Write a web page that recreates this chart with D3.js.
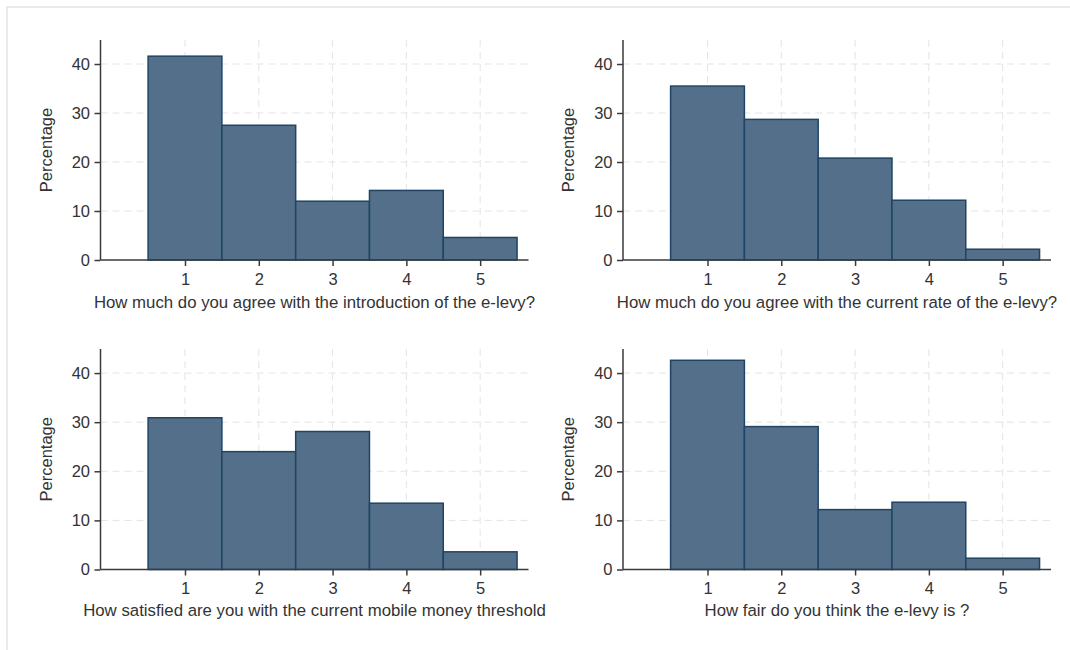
<!DOCTYPE html>
<html>
<head>
<meta charset="utf-8">
<script src="https://cdn.jsdelivr.net/npm/d3@7"></script>
<style>
  body { margin: 0; background: #fff; }
  svg { display: block; font-family: "Liberation Sans", Arial, sans-serif; }
  .grid line { stroke: #e4e4e4; stroke-width: 1; stroke-dasharray: 7,5; }
  .axis path, .axis line { stroke: #3a3a3a; stroke-width: 1.5; }
  .axis text { fill: #333; font-size: 16.5px; }
</style>
</head>
<body>
<div id="chart"></div>
<script>
// data
let categories = [1, 2, 3, 4, 5];
let yTicks = [0, 10, 20, 30, 40];
let yLabel = 'Percentage';

let introValues = [41.6, 27.5, 12.0, 14.2, 4.6];
let rateValues = [35.5, 28.7, 20.8, 12.2, 2.2];
let thresholdValues = [30.9, 24.0, 28.1, 13.5, 3.6];
let fairValues = [42.6, 29.1, 12.2, 13.7, 2.3];

let titles = [
  'How much do you agree with the introduction of the e-levy?',
  'How much do you agree with the current rate of the e-levy?',
  'How satisfied are you with the current mobile money threshold',
  'How fair do you think the e-levy is ?',
];

let barFill = '#546f89';
let barStroke = '#1f4566';

let width = 1070,
  height = 650;

// panel layout: left edge of plot, top and bottom (axis) of plot
let panels = [
  { values: introValues, title: titles[0], left: 100.5, top: 40, bottom: 260, titleDy: 48 },
  { values: rateValues, title: titles[1], left: 623, top: 40, bottom: 260, titleDy: 48 },
  { values: thresholdValues, title: titles[2], left: 100.5, top: 349, bottom: 569.5, titleDy: 46.5 },
  { values: fairValues, title: titles[3], left: 623, top: 349, bottom: 569.5, titleDy: 46.5 },
];
let plotWidth = 428;

const svg = d3
  .select('#chart')
  .append('svg')
  .attr('width', width)
  .attr('height', height);

// light frame on top and left edges
svg.append('path')
  .attr('d', `M7,${height} L7,7 L${width},7`)
  .attr('fill', 'none')
  .attr('stroke', '#e2e2e2')
  .attr('stroke-width', 1.5);

let drawPanel = (p) => {
  let x = d3
    .scaleLinear()
    .domain([-0.145, 5.655])
    .range([p.left, p.left + plotWidth]);

  let y = d3
    .scaleLinear()
    .domain([0, 44.9])
    .range([p.bottom, p.top]);

  let g = svg.append('g');

  // grid lines
  let grid = g.append('g').attr('class', 'grid');
  grid.selectAll('.hy')
    .data(yTicks.filter((d) => d > 0))
    .join('line')
    .attr('x1', x.range()[0])
    .attr('x2', x.range()[1])
    .attr('y1', (d) => y(d))
    .attr('y2', (d) => y(d));
  grid.selectAll('.vx')
    .data(categories)
    .join('line')
    .attr('x1', (d) => x(d))
    .attr('x2', (d) => x(d))
    .attr('y1', y.range()[1])
    .attr('y2', y.range()[0]);

  // bars
  g.append('g')
    .selectAll('rect')
    .data(p.values)
    .join('rect')
    .attr('x', (d, i) => x(categories[i] - 0.5))
    .attr('width', (d, i) => x(categories[i] + 0.5) - x(categories[i] - 0.5))
    .attr('y', (d) => y(d))
    .attr('height', (d) => y(0) - y(d))
    .attr('fill', barFill)
    .attr('stroke', barStroke)
    .attr('stroke-width', 1.5);

  // x axis
  g.append('g')
    .attr('class', 'axis')
    .attr('transform', `translate(0,${p.bottom})`)
    .call(d3.axisBottom(x).tickValues(categories).tickFormat(d3.format('d')).tickSize(6).tickPadding(7).tickSizeOuter(0))
    .call((a) => a.select('.domain').attr('d', `M${x.range()[0]},0H${x.range()[1]}`));

  // y axis
  g.append('g')
    .attr('class', 'axis')
    .attr('transform', `translate(${p.left},0)`)
    .call(d3.axisLeft(y).tickValues(yTicks).tickFormat(d3.format('d')).tickSize(6).tickPadding(4.5).tickSizeOuter(0))
    .call((a) => a.select('.domain').attr('d', `M0,${y.range()[0]}V${y.range()[1]}`));

  // axis titles
  g.append('text')
    .attr('x', (x.range()[0] + x.range()[1]) / 2)
    .attr('y', p.bottom + p.titleDy)
    .attr('text-anchor', 'middle')
    .attr('fill', '#333')
    .style('font-size', '16.8px')
    .text(p.title);

  g.append('text')
    .attr('transform', `translate(${p.left - 49},${(p.top + p.bottom) / 2}) rotate(-90)`)
    .attr('text-anchor', 'middle')
    .attr('fill', '#333')
    .style('font-size', '16.5px')
    .text(yLabel);
};

panels.forEach(drawPanel);
</script>
</body>
</html>
